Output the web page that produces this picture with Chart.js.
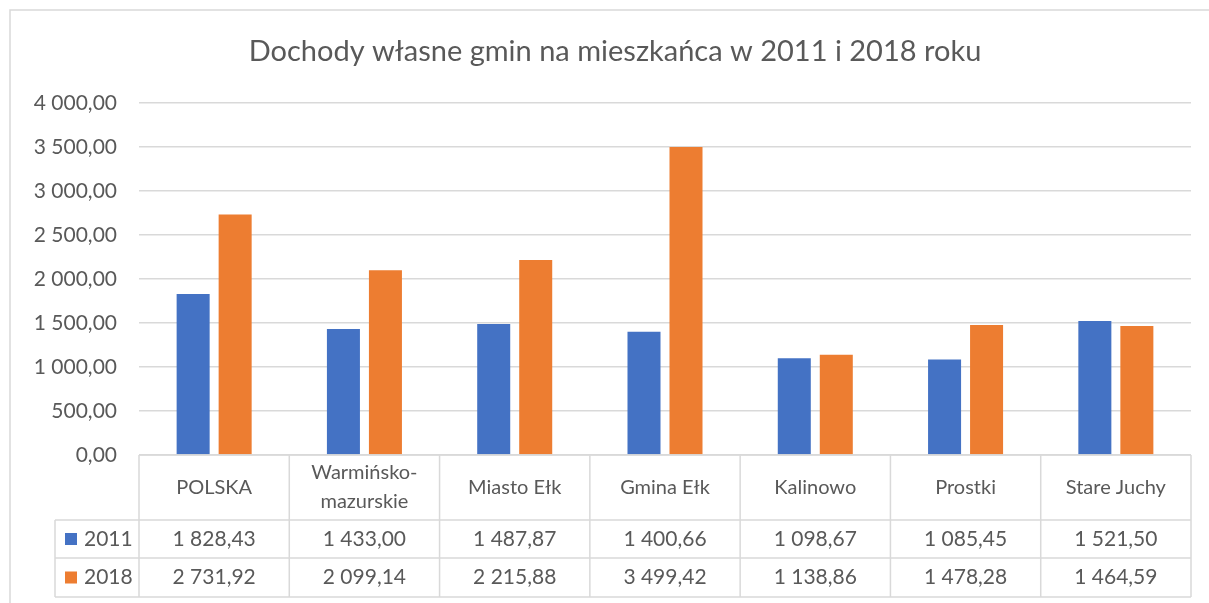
<!DOCTYPE html>
<html><head><meta charset="utf-8">
<script src="https://cdn.jsdelivr.net/npm/chart.js@4"></script>
<style>html,body{margin:0;padding:0;background:#fff;overflow:hidden}#wrap{width:1209px;height:603px;position:relative}</style>
</head><body><div id="wrap"><canvas id="c" width="1209" height="603"></canvas></div>
<script>
const categories = ["POLSKA", "Warmińsko-mazurskie", "Miasto Ełk", "Gmina Ełk", "Kalinowo", "Prostki", "Stare Juchy"];
const values2011 = [1828.43, 1433.00, 1487.87, 1400.66, 1098.67, 1085.45, 1521.50];
const values2018 = [2731.92, 2099.14, 2215.88, 3499.42, 1138.86, 1478.28, 1464.59];
const seriesLabels = ["2011", "2018"];
const seriesColors = ["#4472C4", "#ED7D31"];
const yMin = 0, yMax = 4000, yStep = 500;
const titleText = "Dochody własne gmin na mieszkańca w 2011 i 2018 roku";

const FONT = "Lato, 'Open Sans', sans-serif";
const TXT = "#595959";
const LINE = "#d9d9d9";

function fmt(v) {
  const parts = v.toFixed(2).split('.');
  return parts[0].replace(/\B(?=(\d{3})+(?!\d))/g, ' ') + ',' + parts[1];
}

const borderPlugin = {
  id: 'border',
  beforeDraw(chart) {
    const ctx = chart.ctx;
    ctx.save();
    ctx.fillStyle = '#fff';
    ctx.fillRect(0, 0, chart.width, chart.height);
    ctx.strokeStyle = LINE;
    ctx.lineWidth = 1.5;
    ctx.beginPath();
    ctx.moveTo(10, chart.height);
    ctx.lineTo(10, 10);
    ctx.lineTo(chart.width, 10);
    ctx.stroke();
    ctx.fillStyle = TXT;
    ctx.font = "29px " + FONT;
    ctx.textAlign = 'center';
    ctx.textBaseline = 'middle';
    ctx.fillText(titleText, 615, 52);
    ctx.restore();
  }
};

const tablePlugin = {
  id: 'dataTable',
  afterDraw(chart) {
    const ctx = chart.ctx;
    const a = chart.chartArea;
    const x = chart.scales.x;
    const n = categories.length;
    const colW = (a.right - a.left) / n;
    const top = a.bottom;
    const hdrB = top + 65;
    const r1 = hdrB + 38;
    const r2 = r1 + 39;
    const legL = 55;
    const datasets = chart.data.datasets;

    ctx.save();
    ctx.strokeStyle = LINE;
    ctx.lineWidth = 1.5;
    const line = (x1, y1, x2, y2) => { ctx.beginPath(); ctx.moveTo(x1, y1); ctx.lineTo(x2, y2); ctx.stroke(); };
    line(a.left, top, a.right, top);
    line(legL, hdrB, a.right, hdrB);
    line(legL, r1, a.right, r1);
    line(legL, r2, a.right, r2);
    for (let i = 0; i <= n; i++) {
      const xb = a.left + i * colW;
      line(xb, top, xb, r2);
    }
    line(legL, hdrB, legL, r2);

    ctx.fillStyle = TXT;
    ctx.font = "20px " + FONT;
    ctx.textAlign = 'center';
    ctx.textBaseline = 'middle';
    const hdrMid = (top + hdrB) / 2;
    categories.forEach((c, i) => {
      const cx = x.getPixelForValue(i);
      if (ctx.measureText(c).width > colW - 12 && c.indexOf('-') > 0) {
        const k = c.indexOf('-') + 1;
        ctx.fillText(c.slice(0, k), cx, hdrMid - 15);
        ctx.fillText(c.slice(k), cx, hdrMid + 14);
      } else {
        ctx.fillText(c, cx, hdrMid);
      }
    });
    ctx.font = "21px " + FONT;
    const rows = [[hdrB, r1], [r1, r2]];
    datasets.forEach((ds, j) => {
      const my = (rows[j][0] + rows[j][1]) / 2;
      ctx.fillStyle = ds.backgroundColor;
      ctx.fillRect(65, my - 6, 12, 12);
      ctx.fillStyle = TXT;
      ctx.textAlign = 'left';
      ctx.fillText(ds.label, 84, my);
      ctx.textAlign = 'center';
      ds.data.forEach((v, i) => {
        ctx.fillText(fmt(v), x.getPixelForValue(i), my);
      });
    });
    ctx.restore();
  }
};

new Chart(document.getElementById('c'), {
  type: 'bar',
  data: {
    labels: categories,
    datasets: [
      { label: seriesLabels[0], data: values2011, backgroundColor: seriesColors[0], barPercentage: 0.786, categoryPercentage: 0.559 },
      { label: seriesLabels[1], data: values2018, backgroundColor: seriesColors[1], barPercentage: 0.786, categoryPercentage: 0.559 }
    ]
  },
  options: {
    responsive: false,
    animation: false,
    devicePixelRatio: 1,
    layout: { padding: { left: 0, right: 18, top: 103, bottom: 6 } },
    plugins: {
      legend: { display: false },
      tooltip: { enabled: false },
      title: { display: false }
    },
    scales: {
      x: {
        type: 'category',
        ticks: { display: false },
        grid: { display: false },
        border: { display: false },
        afterFit(s) { s.height = 142; }
      },
      y: {
        min: yMin, max: yMax,
        ticks: { stepSize: yStep, callback: (v) => fmt(v), color: TXT, font: { family: FONT, size: 21 }, padding: 22 },
        grid: { color: LINE, lineWidth: 1.5, drawTicks: false },
        border: { display: false },
        afterFit(s) { s.width = 139; }
      }
    }
  },
  plugins: [borderPlugin, tablePlugin]
});
</script>
</body></html>
